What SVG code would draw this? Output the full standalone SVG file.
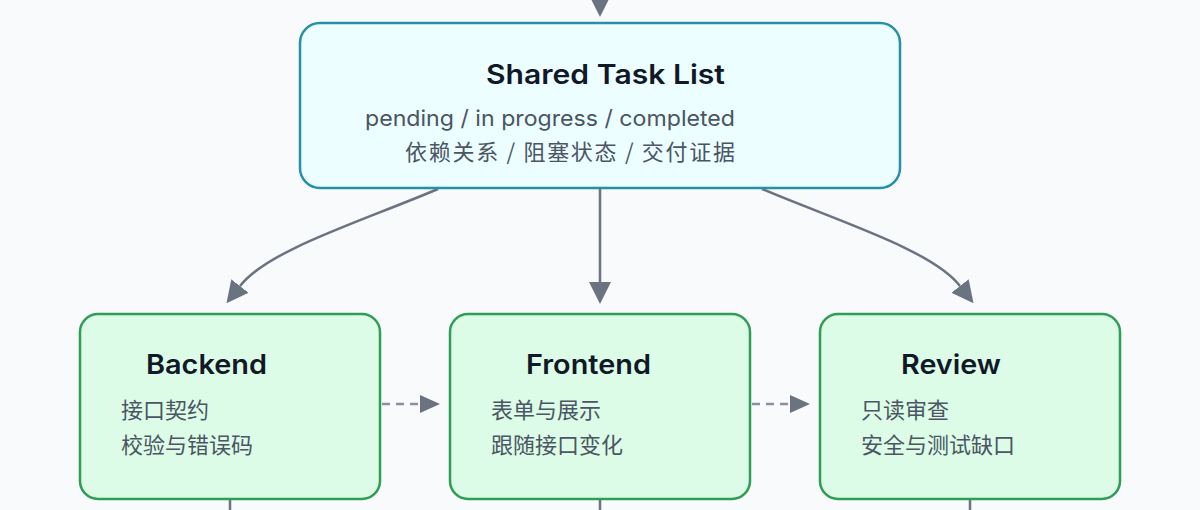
<svg xmlns="http://www.w3.org/2000/svg" width="1200" height="510" viewBox="0 0 1200 510">
<style>
.bg{fill:#f8fafc}
.top{fill:#ecfeff;stroke:#2590a6;stroke-width:2.5}
.box{fill:#dcfce7;stroke:#2f9e55;stroke-width:2.5}
.title{font-family:Inter,"Noto Sans","Noto Sans CJK SC",sans-serif;font-weight:600;font-size:27px;fill:#111827}
.body{font-family:Inter,"Noto Sans CJK SC",sans-serif;font-size:22px;fill:#4b5563}
.cjk{font-family:"Noto Sans CJK SC",sans-serif;font-size:22px;fill:#4b5563}
.edge{fill:none;stroke:#6b7280;stroke-width:2.5}
.dash{fill:none;stroke:#8b919b;stroke-width:2.5;stroke-dasharray:8 6}
</style>
<defs>
<marker id="ah" markerUnits="userSpaceOnUse" markerWidth="22" markerHeight="22" viewBox="0 0 22 22" refX="0" refY="11" orient="auto">
<path d="M0,0 L22,11 L0,22 z" fill="#6b7280"/>
</marker>
<marker id="ahs" markerUnits="userSpaceOnUse" markerWidth="20" markerHeight="18" viewBox="0 0 20 18" refX="0" refY="9" orient="auto">
<path d="M0,0 L20,9 L0,18 z" fill="#6b7280"/>
</marker>
</defs>
<rect class="bg" x="0" y="0" width="1200" height="510"/>
<g id="connectors">
<path class="edge" d="M600,-30 L600,-5" marker-end="url(#ah)"/>
<path class="edge" d="M600,189 L600,282" marker-end="url(#ah)"/>
<path class="edge" d="M438,189 C360,222 268,250 240,286" marker-end="url(#ah)"/>
<path class="edge" d="M762,189 C840,222 932,250 960,286" marker-end="url(#ah)"/>
<path class="dash" d="M382,404 L420,404" marker-end="url(#ahs)"/>
<path class="dash" d="M752,404 L790,404" marker-end="url(#ahs)"/>
<path class="edge" d="M230,499 L230,515"/>
<path class="edge" d="M600,499 L600,515"/>
<path class="edge" d="M970,499 L970,515"/>
</g>
<g id="shared-task-list">
<rect class="top" x="300" y="23" width="600" height="165" rx="20"/>
<text class="title" x="486" y="84" textLength="239" lengthAdjust="spacingAndGlyphs">Shared Task List</text>
<text class="body" x="735" y="126" text-anchor="end" textLength="370" lengthAdjust="spacingAndGlyphs">pending / in progress / completed</text>
<text class="cjk" x="735" y="160" text-anchor="end" textLength="330" lengthAdjust="spacing">依赖关系 / 阻塞状态 / 交付证据</text>
</g>
<g id="backend">
<rect class="box" x="80" y="314" width="300" height="185" rx="18"/>
<text class="title" x="146" y="374" textLength="121" lengthAdjust="spacingAndGlyphs">Backend</text>
<text class="cjk" x="121" y="418">接口契约</text>
<text class="cjk" x="121" y="453">校验与错误码</text>
</g>
<g id="frontend">
<rect class="box" x="450" y="314" width="300" height="185" rx="18"/>
<text class="title" x="526" y="374" textLength="125" lengthAdjust="spacingAndGlyphs">Frontend</text>
<text class="cjk" x="491" y="418">表单与展示</text>
<text class="cjk" x="491" y="453">跟随接口变化</text>
</g>
<g id="review">
<rect class="box" x="820" y="314" width="300" height="185" rx="18"/>
<text class="title" x="901" y="374" textLength="100" lengthAdjust="spacingAndGlyphs">Review</text>
<text class="cjk" x="861" y="418">只读审查</text>
<text class="cjk" x="861" y="453">安全与测试缺口</text>
</g>
</svg>
